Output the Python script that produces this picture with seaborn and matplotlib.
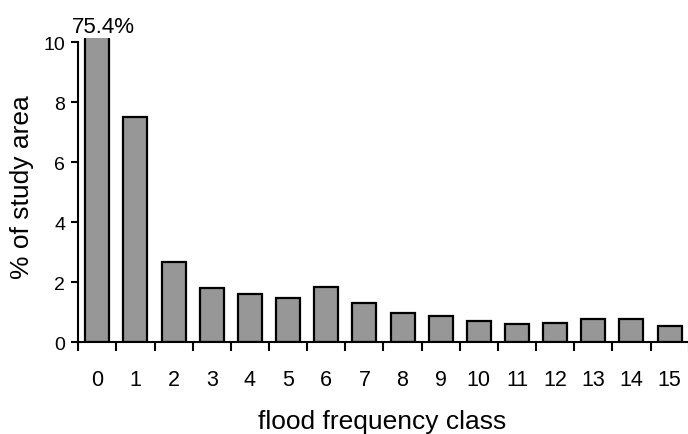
import matplotlib
matplotlib.use("Agg")
import matplotlib.pyplot as plt
import seaborn as sns
import pandas as pd
import numpy as np

classes = [str(i) for i in range(16)]
pct_area = [75.4, 7.50, 2.67, 1.80, 1.61, 1.49, 1.83, 1.32, 0.99, 0.87, 0.72, 0.62, 0.65, 0.79, 0.78, 0.56]
top_label = "75.4%"
y_ticks = [0, 2, 4, 6, 8, 10]

sns.set_theme(style="ticks")
plt.rcParams['font.family'] = ['Liberation Sans', 'DejaVu Sans']
plt.rcParams.update({"text.color": "black", "axes.labelcolor": "black",
                     "xtick.color": "black", "ytick.color": "black"})

df = pd.DataFrame({"cls": classes, "pct": pct_area})

fig = plt.figure(figsize=(6.88, 4.35), dpi=100)
ax = fig.add_axes([0.1137, 0.2108, 0.8873, 0.700])

sns.barplot(data=df, x="cls", y="pct", color="#979797", saturation=1,
            edgecolor="black", linewidth=1.6, width=0.63, ax=ax)

ax.set_xlim(-0.5, 15.5)
ax.set_ylim(0, 10.15)
ax.set_yticks(y_ticks)
ax.set_yticklabels([str(v) for v in y_ticks], fontsize=14)

n = len(classes)
ax.set_xticks(np.arange(n + 1) - 0.5)
ax.set_xticklabels([])
ax.set_xticks(np.arange(n), minor=True)
ax.set_xticklabels(classes, minor=True, fontsize=15.5)
ax.tick_params(axis="x", which="major", direction="out", length=6.5, width=1.5, color="black")
ax.tick_params(axis="x", which="minor", length=0, pad=19, labelcolor="black")
ax.tick_params(axis="y", direction="out", length=5, width=1.5, color="black", pad=4.5, labelcolor="black")

for s in ["top", "right"]:
    ax.spines[s].set_visible(False)
for s in ["left", "bottom"]:
    ax.spines[s].set_linewidth(1.5)
    ax.spines[s].set_color("black")
ax.spines["left"].set_bounds(0, 10)

ax.set_xlabel("flood frequency class", fontsize=19, va="top", color="black")
ax.xaxis.set_label_coords(0.498, -0.219)
ax.set_ylabel("% of study area", fontsize=19, color="black")
ax.yaxis.set_label_coords(-0.0727, 0.514)

ax.text(0.15, 10.33, top_label, ha="center", va="baseline", fontsize=16,
        color="black", clip_on=False)

fig.savefig("out.png", dpi=100)
